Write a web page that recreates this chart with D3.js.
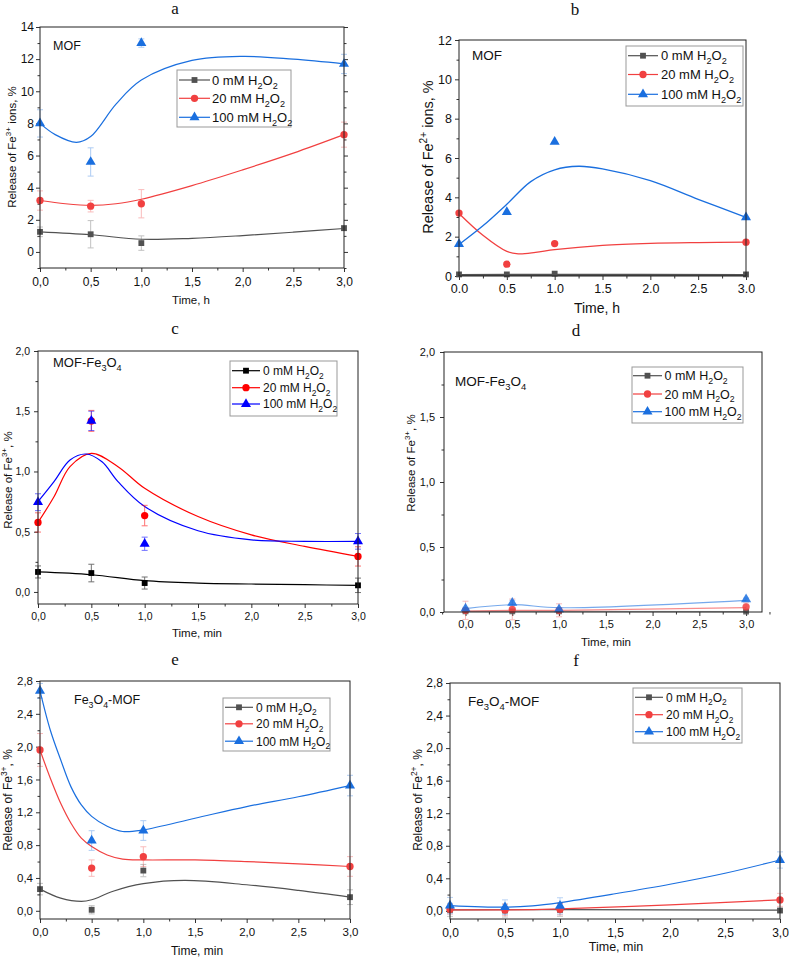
<!DOCTYPE html>
<html><head><meta charset="utf-8">
<script src="https://cdn.jsdelivr.net/npm/d3@7"></script>
<style>body{margin:0;background:#fff}svg{display:block}text{font-family:"Liberation Sans",Arial,sans-serif;fill:#111}</style>
</head><body><svg id="chart" width="789" height="959"></svg>
<script>
// ---------- shared ----------
const times = [0, 0.5, 1, 3];
const seriesNames = ["0 mM", "20 mM", "100 mM"];

// ---------- panel a : MOF, Fe3+ (h) ----------
const a_0 = [1.25, 1.1, 0.55, 1.48];
const a_0e = [0.3, 0.85, 0.45, 0.15];
const a_20 = [3.2, 2.85, 3.0, 7.3];
const a_20e = [0.6, 0.36, 0.88, 0.78];
const a_100 = [8.0, 5.6, 13.0, 11.7];
const a_100e = [0.85, 0.88, 0.26, 0.6];
const a_fit0 = [[0,1.25],[0.5,1.07],[1,0.79],[1.5,0.85],[2,1.02],[2.5,1.23],[3,1.46]];
const a_fit20 = [[0,3.2],[0.25,3.0],[0.5,2.9],[0.75,3.0],[1,3.28],[1.5,4.13],[2,5.11],[2.5,6.15],[3,7.3]];
const a_fit100 = [[0,8.0],[0.15,7.3],[0.36,6.82],[0.5,7.18],[0.75,9.2],[1,10.7],[1.5,11.92],[2,12.17],[2.5,12.0],[3,11.71]];

// ---------- panel b : MOF, Fe2+ (h) ----------
const b_0 = [0.08, 0.08, 0.12, 0.08];
const b_20 = [3.2, 0.6, 1.65, 1.72];
const b_100 = [1.62, 3.25, 6.82, 2.98];
const b_fit0 = [[0,0.05],[1,0.06],[3,0.05]];
const b_fit20 = [[0,3.18],[0.25,2.07],[0.5,1.25],[0.62,1.13],[0.8,1.2],[1,1.34],[1.5,1.56],[2,1.66],[2.5,1.7],[3,1.72]];
const b_fit100 = [[0,1.6],[0.25,2.55],[0.5,3.65],[0.75,4.8],[1,5.4],[1.25,5.58],[1.5,5.45],[2,4.85],[2.5,3.9],[3,2.98]];

// ---------- panel c : MOF-Fe3O4, Fe3+ (min) ----------
const c_0 = [0.166, 0.157, 0.074, 0.055];
const c_0e = [0.05, 0.073, 0.05, 0.06];
const c_20 = [0.577, 1.42, 0.634, 0.295];
const c_20e = [0.08, 0.087, 0.085, 0.08];
const c_100 = [0.745, 1.42, 0.4, 0.42];
const c_100e = [0.07, 0.08, 0.055, 0.065];
const c_fit0 = [[0,0.166],[0.5,0.143],[1,0.094],[1.5,0.074],[2,0.066],[2.5,0.06],[3,0.055]];
const c_fit20 = [[0,0.577],[0.15,0.79],[0.3,1.04],[0.5,1.15],[0.75,1.04],[1,0.86],[1.5,0.626],[2,0.474],[2.5,0.378],[3,0.295]];
const c_fit100 = [[0,0.75],[0.15,0.916],[0.3,1.095],[0.45,1.145],[0.6,1.08],[0.75,0.916],[1,0.709],[1.5,0.508],[2,0.433],[2.5,0.42],[3,0.42]];

// ---------- panel d : MOF-Fe3O4, Fe3+ (min) ----------
const d_0 = [0.005, 0.005, 0.005, 0.003];
const d_0e = [0.01, 0.01, 0.01, 0.01];
const d_20 = [0.013, 0.02, 0.013, 0.04];
const d_20e = [0.07, 0.08, 0.05, 0.03];
const d_100 = [0.026, 0.07, 0.02, 0.097];
const d_100e = [0.01, 0.02, 0.01, 0.01];
const d_fit0 = [[0,0.005],[3,0.003]];
const d_fit20 = [[0,0.007],[0.5,0.013],[1,0.013],[3,0.033]];
const d_fit100 = [[0,0.026],[0.5,0.056],[1,0.033],[3,0.09]];

// ---------- panel e : Fe3O4-MOF, Fe3+ (min) ----------
const e_0 = [0.264, 0.012, 0.49, 0.166];
const e_0e = [0.07, 0.05, 0.075, 0.09];
const e_20 = [1.96, 0.52, 0.66, 0.54];
const e_20e = [0.2, 0.1, 0.12, 0.12];
const e_100 = [2.68, 0.856, 0.978, 1.526];
const e_100e = [0.09, 0.12, 0.12, 0.125];
const e_fit0 = [[0,0.264],[0.2,0.154],[0.4,0.114],[0.5,0.134],[0.7,0.235],[1,0.33],[1.4,0.37],[2,0.317],[2.5,0.248],[3,0.166]];
const e_fit20 = [[0,1.96],[0.1,1.615],[0.2,1.31],[0.3,1.067],[0.4,0.885],[0.5,0.783],[0.65,0.68],[0.8,0.63],[1,0.62],[1.5,0.62],[2,0.6],[2.5,0.572],[3,0.54]];
const e_fit100 = [[0,2.68],[0.1,2.2],[0.2,1.84],[0.3,1.51],[0.4,1.29],[0.5,1.15],[0.65,1.03],[0.8,0.966],[1,0.986],[1.5,1.128],[2,1.27],[2.5,1.39],[3,1.526]];

// ---------- panel f : Fe3O4-MOF, Fe2+ (min) ----------
const f_0 = [0.012, 0.004, 0.012, 0.004];
const f_0e = [0.08, 0.08, 0.08, 0.02];
const f_20 = [0.02, 0.012, 0.02, 0.135];
const f_20e = [0.06, 0.07, 0.07, 0.08];
const f_100 = [0.065, 0.045, 0.061, 0.625];
const f_100e = [0.1, 0.09, 0.1, 0.1];
const f_fit0 = [[0,0.012],[1,0.014],[3,0.008]];
const f_fit20 = [[0,0.012],[0.5,0.012],[1,0.025],[2,0.074],[3,0.135]];
const f_fit100 = [[0,0.065],[0.5,0.045],[0.75,0.061],[1,0.102],[1.5,0.21],[2,0.327],[2.5,0.462],[3,0.625]];

// ---------- tick label lists ----------
const xTicks = [0, 0.5, 1, 1.5, 2, 2.5, 3];
const xMinor = [0.25, 0.75, 1.25, 1.75, 2.25, 2.75];
const aYTicks = [0, 2, 4, 6, 8, 10, 12, 14];
const bYTicks = [0, 2, 4, 6, 8, 10, 12];
const cdYTicks = [0, 0.5, 1, 1.5, 2];
const efYTicks = [0, 0.4, 0.8, 1.2, 1.6, 2, 2.4, 2.8];

const originColors = ["#515151", "#F14040", "#1A6FDF"];
const classicColors = ["#000000", "#FF0000", "#0000FF"];

const comma = v => d3.format(".1f")(v).replace(".", ",");
const dot = v => d3.format(".1f")(v);
const intf = d3.format("d");

const svg = d3.select("#chart");

function rich(sel, parts, fs) {
  let off = 0;
  parts.forEach(p => {
    const t = typeof p === "string" ? p : p[0];
    const k = typeof p === "string" ? null : p[1];
    const target = k === "sub" ? fs * 0.3 : k === "sup" ? -fs * 0.42 : 0;
    sel.append("tspan").text(t).attr("dy", target - off).attr("font-size", k ? fs * 0.7 : fs);
    off = target;
  });
}
const h2o2 = n => [n + " H", ["2", "sub"], "O", ["2", "sub"]];

const panels = [
  { box: [40, 27, 344, 268], xd: [0, 3], yd: [-1, 14], yT: aYTicks, yM: [-1,1,3,5,7,9,11,13], yF: intf, xF: comma,
    vals: [a_0, a_20, a_100], errs: [a_0e, a_20e, a_100e], fits: [a_fit0, a_fit20, a_fit100], colors: originColors, errOp: 0.35,
    tickFs: 12, yPad: 2, xPad: 5, rightTicks: true,
    title: ["a", 175, 14], ylab: { x: 16, y: 147, fs: 11.5, parts: ["Release of Fe", ["3+", "sup"], " ions, %"] },
    xlab: { x: 191, y: 304, fs: 11.5, text: "Time, h" },
    note: { x: 53, y: 50, fs: 12.5, parts: ["MOF"] },
    leg: { x: 177, y: 70, w: 114, h: 57, rows: [80, 98.3, 117.3], l1: 179, l2: 210, tx: 212, fs: 13 } },
  { box: [459, 40, 746, 276], xd: [0, 3], yd: [0, 12], yT: bYTicks, yM: [1,3,5,7,9,11], yF: intf, xF: dot,
    vals: [b_0, b_20, b_100], errs: null, fits: [b_fit0, b_fit20, b_fit100], colors: originColors, errOp: 0.35,
    tickFs: 12.5, yPad: 3, xPad: 4, rightTicks: false, lineW: [2.2, 1.3, 1.3],
    title: ["b", 575, 15], ylab: { x: 433, y: 157, fs: 14.5, parts: ["Release of Fe", ["2+", "sup"], " ions, %"] },
    xlab: { x: 597, y: 313, fs: 14, text: "Time, h" },
    note: { x: 472, y: 60, fs: 13.5, parts: ["MOF"] },
    leg: { x: 626, y: 46, w: 117, h: 60, rows: [55.7, 74.5, 94.3], l1: 628, l2: 658, tx: 661, fs: 13 } },
  { box: [38, 351, 358, 604], xd: [0, 3], yd: [-0.1, 2.0], yT: cdYTicks, yM: [0.25, 0.75, 1.25, 1.75], yF: comma, xF: comma,
    vals: [c_0, c_20, c_100], errs: [c_0e, c_20e, c_100e], fits: [c_fit0, c_fit20, c_fit100], colors: classicColors, errOp: 0.55,
    tickFs: 10.5, yPad: 4, xPad: 5, rightTicks: false,
    title: ["c", 175, 334], ylab: { x: 12, y: 480, fs: 11.5, parts: ["Release of Fe", ["3+", "sup"], ", %"] },
    xlab: { x: 197, y: 637, fs: 11.5, text: "Time, min" },
    note: { x: 53, y: 367, fs: 13, parts: ["MOF-Fe", ["3", "sub"], "O", ["4", "sub"]] },
    leg: { x: 230, y: 361, w: 107, h: 55, rows: [370.7, 387.7, 404], l1: 232, l2: 260, tx: 263, fs: 12 } },
  { box: [444, 352, 762, 612], xd: [-0.23, 3.17], yd: [0, 2.0], yT: cdYTicks, yM: [0.25, 0.75, 1.25, 1.75], yF: comma, xF: comma,
    vals: [d_0, d_20, d_100], errs: [d_0e, d_20e, d_100e], fits: [d_fit0, d_fit20, d_fit100], colors: originColors, errOp: 0.35,
    tickFs: 11, yPad: 5, xPad: 4, rightTicks: false, xMinorExtra: [-0.25, 3.25],
    title: ["d", 576, 336], ylab: { x: 415, y: 463, fs: 11.5, parts: ["Release of Fe", ["3+", "sup"], ", %"] },
    xlab: { x: 606, y: 646, fs: 11.5, text: "Time, min" },
    note: { x: 455, y: 386, fs: 13.5, parts: ["MOF-Fe", ["3", "sub"], "O", ["4", "sub"]] },
    leg: { x: 632, y: 367, w: 111, h: 56, rows: [375.7, 394, 411.7], l1: 633, l2: 662, tx: 664.5, fs: 12.5 } },
  { box: [40, 681, 350, 919], xd: [0, 3], yd: [-0.1, 2.8], yT: efYTicks, yM: [0.2, 0.6, 1.0, 1.4, 1.8, 2.2, 2.6], yF: comma, xF: comma,
    vals: [e_0, e_20, e_100], errs: [e_0e, e_20e, e_100e], fits: [e_fit0, e_fit20, e_fit100], colors: originColors, errOp: 0.35,
    tickFs: 11.5, yPad: 3, xPad: 5, rightTicks: false,
    title: ["e", 175, 665], ylab: { x: 12, y: 800, fs: 12, parts: ["Release of Fe", ["3+", "sup"], ", %"] },
    xlab: { x: 197, y: 955, fs: 12, text: "Time, min" },
    note: { x: 74, y: 704, fs: 12.5, parts: ["Fe", ["3", "sub"], "O", ["4", "sub"], "-MOF"] },
    leg: { x: 223, y: 698, w: 107, h: 53, rows: [707.3, 723.8, 741.2], l1: 225, l2: 253, tx: 256, fs: 12 } },
  { box: [450, 683, 780, 919], xd: [0, 3], yd: [-0.1, 2.8], yT: efYTicks, yM: [0.2, 0.6, 1.0, 1.4, 1.8, 2.2, 2.6], yF: comma, xF: comma,
    vals: [f_0, f_20, f_100], errs: [f_0e, f_20e, f_100e], fits: [f_fit0, f_fit20, f_fit100], colors: originColors, errOp: 0.3,
    tickFs: 12, yPad: 3, xPad: 5, rightTicks: false,
    title: ["f", 576, 666], ylab: { x: 422, y: 800, fs: 12, parts: ["Release of Fe", ["2+", "sup"], ", %"] },
    xlab: { x: 616, y: 951, fs: 12.5, text: "Time, min" },
    note: { x: 468, y: 706, fs: 13.5, parts: ["Fe", ["3", "sub"], "O", ["4", "sub"], "-MOF"] },
    leg: { x: 633, y: 688, w: 109, h: 55, rows: [697.3, 714.7, 731.7], l1: 635, l2: 663, tx: 666, fs: 12 } }
];

const symbols = [d3.symbolSquare, d3.symbolCircle, d3.symbolTriangle];
const symSizes = [34, 42, 44];

panels.forEach(p => {
  const [L, T, R, B] = p.box;
  const x = d3.scaleLinear().domain(p.xd).range([L, R]);
  const y = d3.scaleLinear().domain(p.yd).range([B, T]);
  const g = svg.append("g");

  // title
  g.append("text").attr("x", p.title[1]).attr("y", p.title[2]).attr("text-anchor", "middle")
    .style("font-family", "'Liberation Serif','Times New Roman',serif").attr("font-size", 17).text(p.title[0]);

  // axes
  const styleAxis = sel => {
    sel.select(".domain").remove();
    sel.selectAll("line").attr("stroke", "#333");
    sel.selectAll("text").attr("font-size", p.tickFs).style("fill", "#111").style("font-family", "'Liberation Sans',Arial,sans-serif");
  };
  g.append("g").attr("transform", `translate(0,${B})`)
    .call(d3.axisBottom(x).tickValues(xTicks).tickFormat(p.xF).tickSize(4).tickPadding(p.xPad)).call(styleAxis);
  g.append("g").attr("transform", `translate(0,${B})`)
    .call(d3.axisBottom(x).tickValues(xMinor.concat(p.xMinorExtra || [])).tickFormat("").tickSize(2.5)).call(styleAxis);
  g.append("g").attr("transform", `translate(${L},0)`)
    .call(d3.axisLeft(y).tickValues(p.yT).tickFormat(p.yF).tickSize(4).tickPadding(p.yPad)).call(styleAxis);
  g.append("g").attr("transform", `translate(${L},0)`)
    .call(d3.axisLeft(y).tickValues(p.yM).tickFormat("").tickSize(2.5)).call(styleAxis);
  if (p.rightTicks) {
    g.append("g").attr("transform", `translate(${R},0)`)
      .call(d3.axisRight(y).tickValues(p.yT).tickFormat("").tickSize(4)).call(styleAxis);
    g.append("g").attr("transform", `translate(${R},0)`)
      .call(d3.axisRight(y).tickValues(p.yM).tickFormat("").tickSize(2.5)).call(styleAxis);
  }

  // fitted curves
  const line = d3.line().x(d => x(d[0])).y(d => y(d[1])).curve(d3.curveCatmullRom.alpha(0.5));
  const lineOp = p === panels[3] ? 0.6 : 1;
  p.fits.forEach((f, i) => {
    g.append("path").attr("d", line(f)).attr("fill", "none").attr("stroke", p.colors[i])
      .attr("stroke-width", p.lineW ? p.lineW[i] : 1.2).attr("opacity", lineOp);
  });

  // error bars
  if (p.errs) {
    p.vals.forEach((vs, i) => {
      vs.forEach((v, j) => {
        const e = p.errs[i][j];
        const cx = x(times[j]);
        const eg = g.append("g").attr("stroke", p.colors[i]).attr("stroke-width", 1).attr("opacity", p.errOp);
        eg.append("line").attr("x1", cx).attr("x2", cx).attr("y1", y(v - e)).attr("y2", y(v + e));
        eg.append("line").attr("x1", cx - 3).attr("x2", cx + 3).attr("y1", y(v - e)).attr("y2", y(v - e));
        eg.append("line").attr("x1", cx - 3).attr("x2", cx + 3).attr("y1", y(v + e)).attr("y2", y(v + e));
      });
    });
  }

  // markers
  p.vals.forEach((vs, i) => {
    g.selectAll(null).data(vs).enter().append("path")
      .attr("d", d3.symbol().type(symbols[i]).size(symSizes[i]))
      .attr("transform", (v, j) => `translate(${x(times[j])},${y(v)})`)
      .attr("fill", p.colors[i]).attr("opacity", p === panels[3] ? 0.85 : 1);
  });

  // frame
  g.append("rect").attr("x", L).attr("y", T).attr("width", R - L).attr("height", B - T)
    .attr("fill", "none").attr("stroke", "#222").attr("stroke-width", 1);

  // labels
  const yl = g.append("text").attr("transform", `translate(${p.ylab.x},${p.ylab.y}) rotate(-90)`)
    .attr("text-anchor", "middle").attr("font-size", p.ylab.fs);
  rich(yl, p.ylab.parts, p.ylab.fs);
  g.append("text").attr("x", p.xlab.x).attr("y", p.xlab.y).attr("text-anchor", "middle")
    .attr("font-size", p.xlab.fs).text(p.xlab.text);
  const nt = g.append("text").attr("x", p.note.x).attr("y", p.note.y).attr("font-size", p.note.fs);
  rich(nt, p.note.parts, p.note.fs);

  // legend
  const lg = p.leg;
  g.append("rect").attr("x", lg.x).attr("y", lg.y).attr("width", lg.w).attr("height", lg.h)
    .attr("fill", "#fff").attr("stroke", "#999").attr("stroke-width", 1);
  seriesNames.forEach((nm, i) => {
    const ry = lg.rows[i];
    g.append("line").attr("x1", lg.l1).attr("x2", lg.l2).attr("y1", ry).attr("y2", ry)
      .attr("stroke", p.colors[i]).attr("stroke-width", 1.2);
    g.append("path").attr("d", d3.symbol().type(symbols[i]).size(symSizes[i]))
      .attr("transform", `translate(${(lg.l1 + lg.l2) / 2},${ry})`).attr("fill", p.colors[i]);
    const t = g.append("text").attr("x", lg.tx).attr("y", ry + lg.fs * 0.36).attr("font-size", lg.fs);
    rich(t, h2o2(nm), lg.fs);
  });
});
</script>
</body></html>
